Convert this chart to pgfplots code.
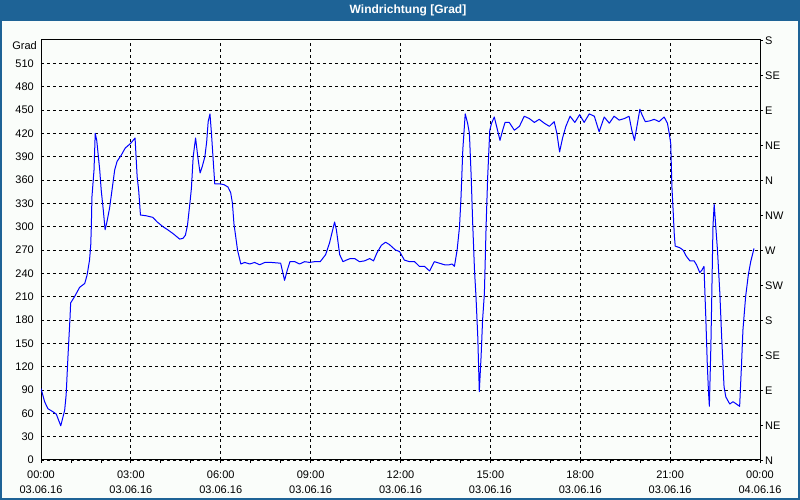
\documentclass[border=0pt]{standalone}
\usepackage{fontspec}
\setmainfont{Liberation Sans}
\usepackage{pgfplots}
\pgfplotsset{compat=1.18}
\definecolor{titleblue}{RGB}{30,99,150}
\definecolor{bgc}{RGB}{250,253,250}
\definecolor{lineblue}{RGB}{0,0,255}
\begin{document}
\begin{tikzpicture}[x=1pt,y=1pt]
\useasboundingbox (0,0) rectangle (800,500);
\fill[bgc] (0,0) rectangle (800,500);
\fill[titleblue] (0,479) rectangle (800,500);
\draw[titleblue, line width=2pt] (1,1) rectangle (799,499);
\node[text=white, font=\bfseries\fontsize{12}{14}\selectfont] at (408,489.5) {Windrichtung [Grad]};
\node[anchor=east, inner sep=0pt, font=\fontsize{11}{13}\selectfont] at (37,454) {Grad};
\begin{axis}[at={(41pt,40pt)}, anchor=south west, width=719pt, height=420pt, scale only axis,
  xmin=0, xmax=24, ymin=0, ymax=540,
  /pgf/number format/assume math mode=true,
  axis line style={black, line width=1pt},
  grid=major, major grid style={black, dash pattern=on 3pt off 3pt, line width=0.8pt},
  xtick={0,3,...,24}, minor xtick={1,2,4,5,7,8,10,11,13,14,16,17,19,20,22,23},
  xticklabels={{00:00\\03.06.16},{03:00\\03.06.16},{06:00\\03.06.16},{09:00\\03.06.16},{12:00\\03.06.16},{15:00\\03.06.16},{18:00\\03.06.16},{21:00\\03.06.16},{00:00\\04.06.16}},
  ytick={0,30,...,510},
  xtick pos=left, ytick pos=left,
  tick align=outside, major tick length=3pt, minor tick length=3pt,
  xtick style={black, line width=0.8pt},
  ytick style={draw=none},
  xticklabel style={align=center, font=\fontsize{11}{15}\selectfont, inner sep=0pt, yshift=-8pt},
  yticklabel style={font=\fontsize{11}{13}\selectfont, inner sep=0pt, anchor=east, xshift=-4pt},
]
\addplot[lineblue, line width=1pt, line join=round] coordinates {
(0.00,92) (0.12,75) (0.23,66) (0.40,62) (0.51,59) (0.66,44) (0.79,64) (0.84,84) (0.90,133) (0.97,184)
(0.99,202) (1.12,210) (1.29,222) (1.46,227) (1.54,238) (1.62,257) (1.66,276) (1.68,300) (1.70,338) (1.77,373)
(1.81,420) (1.86,411) (1.90,396) (1.96,373) (2.01,347) (2.08,321) (2.14,296) (2.20,306) (2.29,324) (2.37,347)
(2.46,373) (2.54,384) (2.68,392) (2.81,401) (2.99,407) (3.14,414) (3.21,364) (3.26,347) (3.32,315) (3.51,314)
(3.73,312) (3.88,306) (4.07,300) (4.23,296) (4.41,291) (4.63,284) (4.74,285) (4.82,289) (4.89,302) (4.97,330)
(5.02,349) (5.08,390) (5.16,414) (5.20,401) (5.24,388) (5.31,369) (5.38,377) (5.47,390) (5.53,409) (5.58,435)
(5.64,445) (5.69,420) (5.74,390) (5.80,355) (5.97,355) (6.11,354) (6.24,351) (6.33,344) (6.39,330) (6.44,304)
(6.50,287) (6.56,270) (6.67,252) (6.80,254) (6.97,252) (7.13,254) (7.30,251) (7.47,254) (7.69,254) (8.00,253)
(8.13,231) (8.22,244) (8.31,255) (8.47,255) (8.63,252) (8.80,255) (8.97,254) (9.13,255) (9.32,255) (9.50,264)
(9.63,279) (9.80,306) (9.86,296) (9.97,264) (10.08,255) (10.19,257) (10.32,259) (10.47,259) (10.63,255) (10.80,256)
(10.97,259) (11.10,256) (11.21,266) (11.36,276) (11.50,280) (11.63,277) (11.83,270) (11.97,268) (12.13,257) (12.30,255)
(12.47,255) (12.63,249) (12.80,249) (12.97,243) (13.13,255) (13.30,253) (13.47,251) (13.63,251) (13.72,252) (13.80,249)
(13.89,270) (13.97,300) (14.02,338) (14.08,399) (14.16,445) (14.24,433) (14.30,420) (14.36,364) (14.41,304) (14.47,244)
(14.52,210) (14.58,158) (14.63,88) (14.69,133) (14.74,180) (14.80,214) (14.86,304) (14.91,364) (14.98,424) (15.04,433)
(15.13,441) (15.22,427) (15.32,411) (15.41,424) (15.49,434) (15.63,434) (15.80,424) (15.97,429) (16.13,442) (16.30,439)
(16.47,434) (16.63,438) (16.80,433) (16.97,429) (17.13,435) (17.22,420) (17.31,396) (17.41,414) (17.52,429) (17.66,442)
(17.82,434) (17.98,444) (18.13,434) (18.30,445) (18.47,442) (18.63,422) (18.80,441) (18.97,433) (19.13,442) (19.30,437)
(19.47,439) (19.63,442) (19.72,424) (19.81,411) (19.91,433) (19.99,451) (20.06,444) (20.17,435) (20.32,436) (20.47,438)
(20.63,435) (20.80,441) (20.91,433) (20.97,420) (21.02,407) (21.06,351) (21.10,321) (21.14,289) (21.17,275) (21.32,273)
(21.43,270) (21.54,262) (21.66,256) (21.80,256) (21.88,251) (21.99,241) (22.06,244) (22.13,249) (22.19,184) (22.24,124)
(22.28,88) (22.31,69) (22.36,146) (22.39,210) (22.43,300) (22.47,329) (22.52,302) (22.58,270) (22.66,214) (22.72,158)
(22.80,94) (22.86,81) (22.99,72) (23.10,75) (23.21,72) (23.32,69) (23.38,120) (23.43,167) (23.52,210) (23.61,238)
(23.69,255) (23.80,272)
};
\end{axis}
\begin{axis}[at={(41pt,40pt)}, anchor=south west, width=719pt, height=420pt, scale only axis,
  xmin=0, xmax=24, ymin=0, ymax=540,
  axis x line=none, axis y line*=right,
  axis line style={black, line width=1pt},
  ytick={0,45,...,540},
  yticklabels={N,NE,E,SE,S,SW,W,NW,N,NE,E,SE,S},
  tick align=outside, major tick length=3pt,
  ytick style={black, line width=0.8pt},
  yticklabel style={font=\fontsize{11}{13}\selectfont, inner sep=0pt, anchor=west, xshift=2pt, yshift=-1pt},
]
\end{axis}
\end{tikzpicture}
\end{document}
